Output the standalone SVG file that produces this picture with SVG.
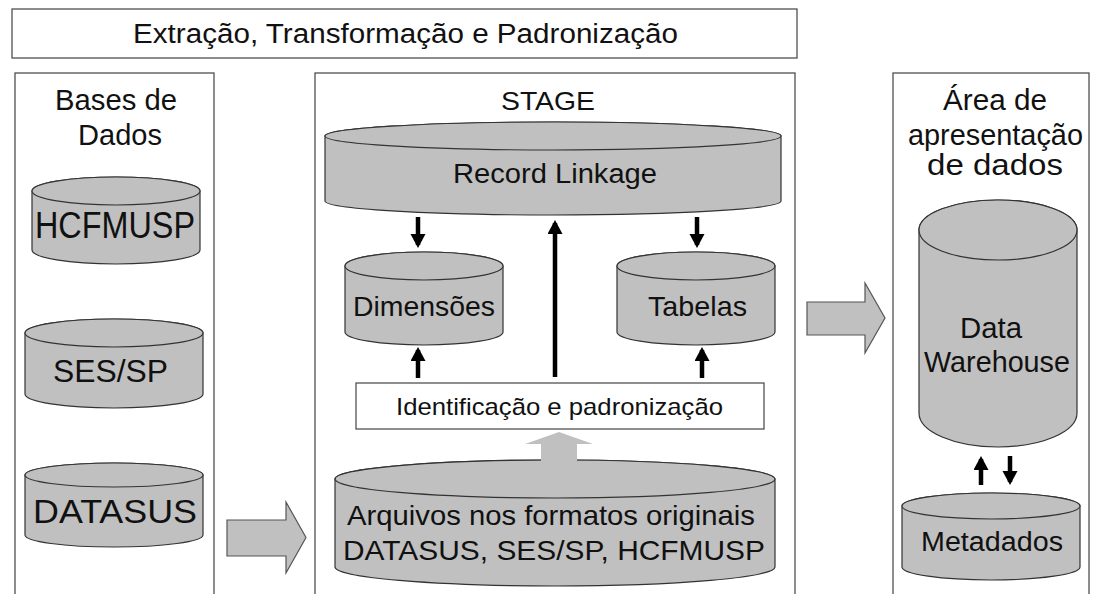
<svg xmlns="http://www.w3.org/2000/svg" width="1093" height="594" viewBox="0 0 1093 594">
<defs>
<style>
.frame{fill:#fff;stroke:#505050;stroke-width:1.3}
.cyl{fill:#c0c0c0;stroke:#333;stroke-width:1.2}
.t{font-family:"Liberation Sans",Arial,sans-serif;fill:#111;text-anchor:middle}
.blk{stroke:#000;stroke-width:4.5;fill:none}
.blockarrow{fill:#c0c0c0;stroke:#555;stroke-width:1.2}
</style>
<marker id="ah" markerUnits="userSpaceOnUse" markerWidth="16" markerHeight="16" refX="11" refY="7.5" orient="auto">
<path d="M0,0 L14,7.5 L0,15 Z" fill="#000"/>
</marker>
</defs>
<rect width="1093" height="594" fill="#fff"/>

<g id="title">
<rect class="frame" x="12" y="9" width="785" height="49"/>
<text class="t" x="405.5" y="43" font-size="27" textLength="545" lengthAdjust="spacingAndGlyphs">Extração, Transformação e Padronização</text>
</g>

<g id="panel-bases">
<rect class="frame" x="15" y="73" width="199" height="540"/>
<text class="t" x="116" y="110" font-size="29" textLength="122" lengthAdjust="spacingAndGlyphs">Bases de</text>
<text class="t" x="120" y="145" font-size="29" textLength="84" lengthAdjust="spacingAndGlyphs">Dados</text>
</g>

<g id="panel-stage">
<rect class="frame" x="315" y="73" width="480" height="540"/>
<text class="t" x="548" y="110" font-size="26" textLength="94" lengthAdjust="spacingAndGlyphs">STAGE</text>
</g>

<g id="panel-apresentacao">
<rect class="frame" x="893" y="73" width="196" height="540"/>
<text class="t" x="995" y="110" font-size="29" textLength="104" lengthAdjust="spacingAndGlyphs">Área de</text>
<text class="t" x="995.5" y="145" font-size="29" textLength="175" lengthAdjust="spacingAndGlyphs">apresentação</text>
<text class="t" x="995" y="175" font-size="29" textLength="136" lengthAdjust="spacingAndGlyphs">de dados</text>
</g>

<g id="hcfmusp">
<path class="cyl" d="M32,191 L32,250 A84,14 0 0 0 200,250 L200,191 A84,14 0 0 0 32,191 Z"/>
<ellipse class="cyl" cx="116" cy="191" rx="84" ry="14"/>
<text class="t" x="115" y="238" font-size="36" textLength="160" lengthAdjust="spacingAndGlyphs">HCFMUSP</text>
</g>

<g id="sessp">
<path class="cyl" d="M25,333 L25,394 A89,14 0 0 0 203,394 L203,333 A89,14 0 0 0 25,333 Z"/>
<ellipse class="cyl" cx="114" cy="333" rx="89" ry="14"/>
<text class="t" x="110.5" y="382" font-size="32" textLength="115" lengthAdjust="spacingAndGlyphs">SES/SP</text>
</g>

<g id="datasus">
<path class="cyl" d="M25,475 L25,535 A89,12 0 0 0 203,535 L203,475 A89,12 0 0 0 25,475 Z"/>
<ellipse class="cyl" cx="114" cy="475" rx="89" ry="12"/>
<text class="t" x="115" y="523" font-size="34" textLength="164" lengthAdjust="spacingAndGlyphs">DATASUS</text>
</g>

<g id="record-linkage">
<path class="cyl" d="M325,136 L325,201 A228,14 0 0 0 781,201 L781,136 A228,14 0 0 0 325,136 Z"/>
<ellipse class="cyl" cx="553" cy="136" rx="228" ry="14"/>
<text class="t" x="555" y="183" font-size="27" textLength="204" lengthAdjust="spacingAndGlyphs">Record Linkage</text>
</g>

<g id="dimensoes">
<path class="cyl" d="M345,266 L345,332 A79,13 0 0 0 503,332 L503,266 A79,14 0 0 0 345,266 Z"/>
<ellipse class="cyl" cx="424" cy="266" rx="79" ry="14"/>
<text class="t" x="424" y="316" font-size="28" textLength="142" lengthAdjust="spacingAndGlyphs">Dimensões</text>
</g>

<g id="tabelas">
<path class="cyl" d="M617,266 L617,332 A79,13 0 0 0 775,332 L775,266 A79,14 0 0 0 617,266 Z"/>
<ellipse class="cyl" cx="696" cy="266" rx="79" ry="14"/>
<text class="t" x="697.5" y="316" font-size="28" textLength="99" lengthAdjust="spacingAndGlyphs">Tabelas</text>
</g>

<g id="identificacao">
<rect x="356" y="383" width="408" height="46" fill="#fff" stroke="#444" stroke-width="1.2"/>
<text class="t" x="559.5" y="415" font-size="24" textLength="327" lengthAdjust="spacingAndGlyphs">Identificação e padronização</text>
</g>

<g id="arquivos">
<path class="cyl" d="M335,479 L335,567 A220,19 0 0 0 775,567 L775,479 A220,19 0 0 0 335,479 Z"/>
<ellipse class="cyl" cx="555" cy="479" rx="220" ry="19"/>
<text class="t" x="551" y="525" font-size="28" textLength="408" lengthAdjust="spacingAndGlyphs">Arquivos nos formatos originais</text>
<text class="t" x="554" y="560" font-size="28" textLength="422" lengthAdjust="spacingAndGlyphs">DATASUS, SES/SP, HCFMUSP</text>
</g>

<g id="data-warehouse">
<path class="cyl" d="M919,230 L919,413 A79,34 0 0 0 1077,413 L1077,230 A79,30 0 0 0 919,230 Z"/>
<ellipse class="cyl" cx="998" cy="230" rx="79" ry="30"/>
<text class="t" x="991" y="338" font-size="29" textLength="62" lengthAdjust="spacingAndGlyphs">Data</text>
<text class="t" x="997" y="372" font-size="29" textLength="146" lengthAdjust="spacingAndGlyphs">Warehouse</text>
</g>

<g id="metadados">
<path class="cyl" d="M902,506 L902,567 A89,13 0 0 0 1080,567 L1080,506 A89,13 0 0 0 902,506 Z"/>
<ellipse class="cyl" cx="991" cy="506" rx="89" ry="13"/>
<text class="t" x="992" y="551" font-size="27" textLength="142" lengthAdjust="spacingAndGlyphs">Metadados</text>
</g>

<g id="connectors">
<polygon class="blockarrow" points="227,520 286,520 286,502 306,537.5 286,573 286,556 227,556"/>
<polygon class="blockarrow" points="807,302 865,302 865,283 885,318 865,353 865,335 807,335"/>
<polygon fill="#c0c0c0" points="541,462 541,444 525,444 559,432 593,444 577,444 577,462"/>
<line class="blk" x1="418" y1="217" x2="418" y2="245" marker-end="url(#ah)"/>
<line class="blk" x1="697" y1="217" x2="697" y2="245" marker-end="url(#ah)"/>
<line class="blk" x1="555" y1="377" x2="555" y2="223" marker-end="url(#ah)"/>
<line class="blk" x1="418" y1="378" x2="418" y2="350" marker-end="url(#ah)"/>
<line class="blk" x1="702" y1="378" x2="702" y2="350" marker-end="url(#ah)"/>
<line class="blk" x1="981" y1="485" x2="981" y2="459" marker-end="url(#ah)"/>
<line class="blk" x1="1010" y1="456" x2="1010" y2="482" marker-end="url(#ah)"/>
</g>
</svg>
